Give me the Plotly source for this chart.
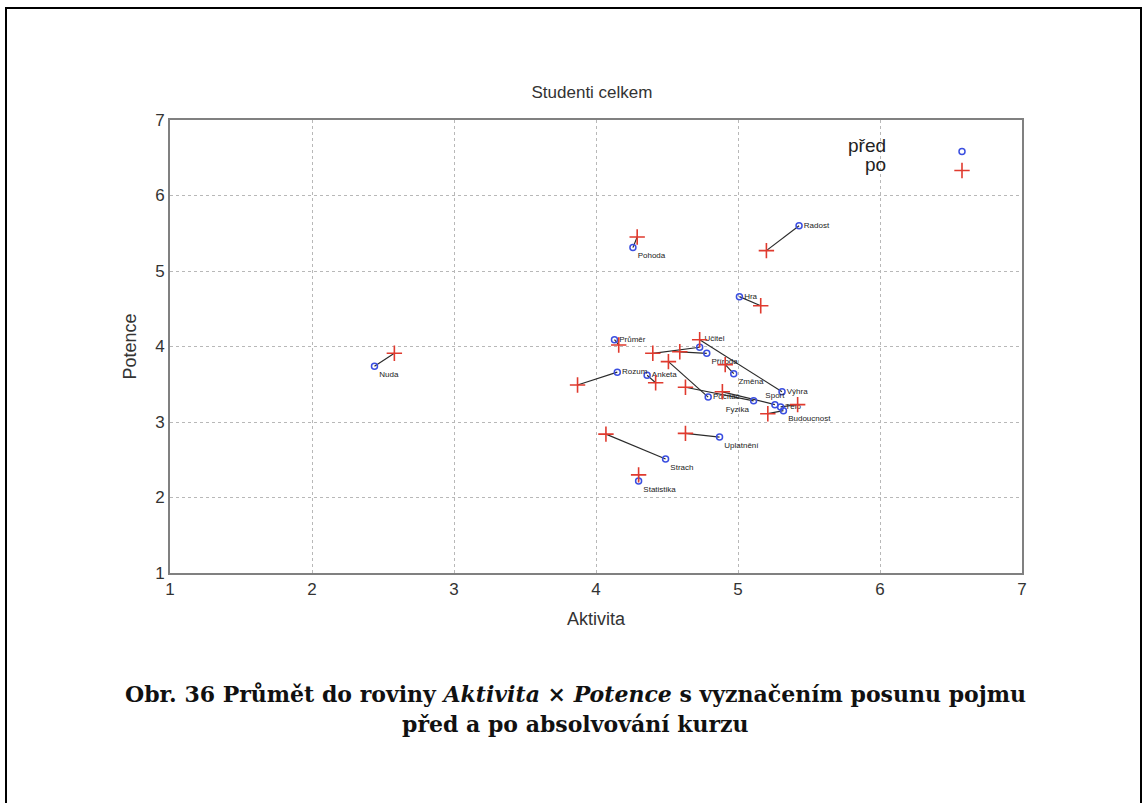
import plotly.graph_objects as go

# ---- data ----
concepts = ["Nuda", "Radost", "Pohoda", "Hra", "Průměr", "Učitel", "Příroda", "Změna",
            "Výhra", "Rozum", "Anketa", "Počítač", "Fyzika", "Sport", "Tělo",
            "Budoucnost", "Uplatnění", "Strach", "Statistika"]
pred_x = [2.44, 5.43, 4.26, 5.01, 4.13, 4.73, 4.78, 4.97, 5.31, 4.15, 4.36, 4.79, 5.11, 5.26, 5.30, 5.32, 4.87, 4.49, 4.30]
pred_y = [3.74, 5.60, 5.31, 4.66, 4.09, 3.99, 3.91, 3.64, 3.40, 3.66, 3.62, 3.33, 3.28, 3.23, 3.20, 3.15, 2.80, 2.51, 2.22]
po_x = [2.58, 5.20, 4.29, 5.16, 4.16, 4.40, 4.59, 4.91, 4.73, 3.87, 4.42, 4.51, 4.63, 4.89, 5.42, 5.21, 4.63, 4.07, 4.30]
po_y = [3.91, 5.27, 5.45, 4.54, 4.02, 3.91, 3.93, 3.76, 4.09, 3.49, 3.52, 3.80, 3.46, 3.40, 3.23, 3.11, 2.85, 2.84, 2.30]
label_pos = ["bottom right", "middle right", "bottom right", "middle right", "middle right",
             "top right", "bottom right", "bottom right", "middle right", "middle right",
             "middle right", "middle right", "bottom left", "top center", "middle right",
             "bottom right", "bottom right", "bottom right", "bottom right"]

title = "Studenti celkem"
x_title = "Aktivita"
y_title = "Potence"
ticks = [1, 2, 3, 4, 5, 6, 7]
legend_names = ["před", "po"]
caption_1 = "Obr. 36 Průmět do roviny <i>Aktivita</i> × <i>Potence</i> s vyznačením posunu pojmu"
caption_2 = "před a po absolvování kurzu"

# ---- figure ----
seg_x, seg_y = [], []
for a, b, c, d in zip(pred_x, pred_y, po_x, po_y):
    seg_x += [a, c, None]
    seg_y += [b, d, None]

BLUE = "#3b4fe0"
RED = "#e03a2e"

fig = go.Figure()
fig.add_trace(go.Scatter(x=seg_x, y=seg_y, mode="lines",
                         line=dict(color="#2b2b2b", width=1.2),
                         showlegend=False, hoverinfo="skip"))
fig.add_trace(go.Scatter(x=pred_x, y=pred_y, mode="markers+text", text=concepts,
                         textposition=label_pos,
                         textfont=dict(family="Liberation Sans, Arial", size=8, color="#222"),
                         marker=dict(symbol="circle-open", size=6, color=BLUE,
                                     line=dict(width=1.5, color=BLUE)),
                         name=" ", showlegend=True))
fig.add_trace(go.Scatter(x=po_x, y=po_y, mode="markers",
                         marker=dict(symbol="cross-thin-open", size=11, color=RED,
                                     line=dict(width=1.6, color=RED)),
                         name=" ", showlegend=True))

grid = dict(showgrid=True, gridcolor="#b8b8b8", griddash="dot", gridwidth=1.3,
            zeroline=False, showline=True, linecolor="#808080", linewidth=2, mirror=True,
            tickmode="array", tickfont=dict(family="Liberation Sans, Arial", size=17, color="#333"),
            ticks="", range=[1, 7])

fig.update_layout(
    width=1148, height=803, autosize=False,
    paper_bgcolor="white", plot_bgcolor="white",
    margin=dict(l=170, r=126, t=120, b=230),
    font=dict(family="Liberation Sans, Arial", color="#333"),
    title=dict(text=title, x=(592) / 1148, xanchor="center", y=1 - 92 / 803, yanchor="middle",
               font=dict(size=17, color="#333")),
    xaxis=dict(grid, tickvals=ticks, ticktext=[str(t) for t in ticks],
               title=dict(text=x_title, font=dict(size=18, color="#333"), standoff=14)),
    yaxis=dict(grid, tickvals=ticks, ticktext=[str(t) for t in ticks],
               title=dict(text=y_title, font=dict(size=18, color="#333"), standoff=14)),
    legend=dict(x=(942 - 170) / 852, y=(573 - 137) / 453, xanchor="left", yanchor="top",
                bgcolor="rgba(0,0,0,0)", font=dict(size=9), tracegroupgap=0,
                itemwidth=30),
    showlegend=True,
)

# legend texts (text left of marker, as in the reference)
for i, name in enumerate(legend_names):
    fig.add_annotation(xref="paper", yref="paper", x=(887 - 170) / 852,
                       y=(573 - (146 + 19 * i)) / 453, xanchor="right", yanchor="middle",
                       text=name, showarrow=False, borderpad=0,
                       font=dict(family="Liberation Sans, Arial", size=19, color="#222"))

# caption
fig.add_annotation(xref="paper", yref="paper", x=(575 - 170) / 852, y=(573 - 694) / 453,
                   xanchor="center", yanchor="middle", showarrow=False, borderpad=0,
                   text="<b>" + caption_1 + "</b>",
                   font=dict(family="DejaVu Serif, Georgia, serif", size=22, color="#111"))
fig.add_annotation(xref="paper", yref="paper", x=(575 - 170) / 852, y=(573 - 724) / 453,
                   xanchor="center", yanchor="middle", showarrow=False, borderpad=0,
                   text="<b>" + caption_2 + "</b>",
                   font=dict(family="DejaVu Serif, Georgia, serif", size=22, color="#111"))

# page border
fig.add_shape(type="rect", xref="paper", yref="paper",
              x0=(6 - 170) / 852, x1=(1141 - 170) / 852,
              y0=(573 - 810) / 453, y1=(573 - 8) / 453,
              line=dict(color="black", width=2), layer="below")

fig.write_html("out.html")
